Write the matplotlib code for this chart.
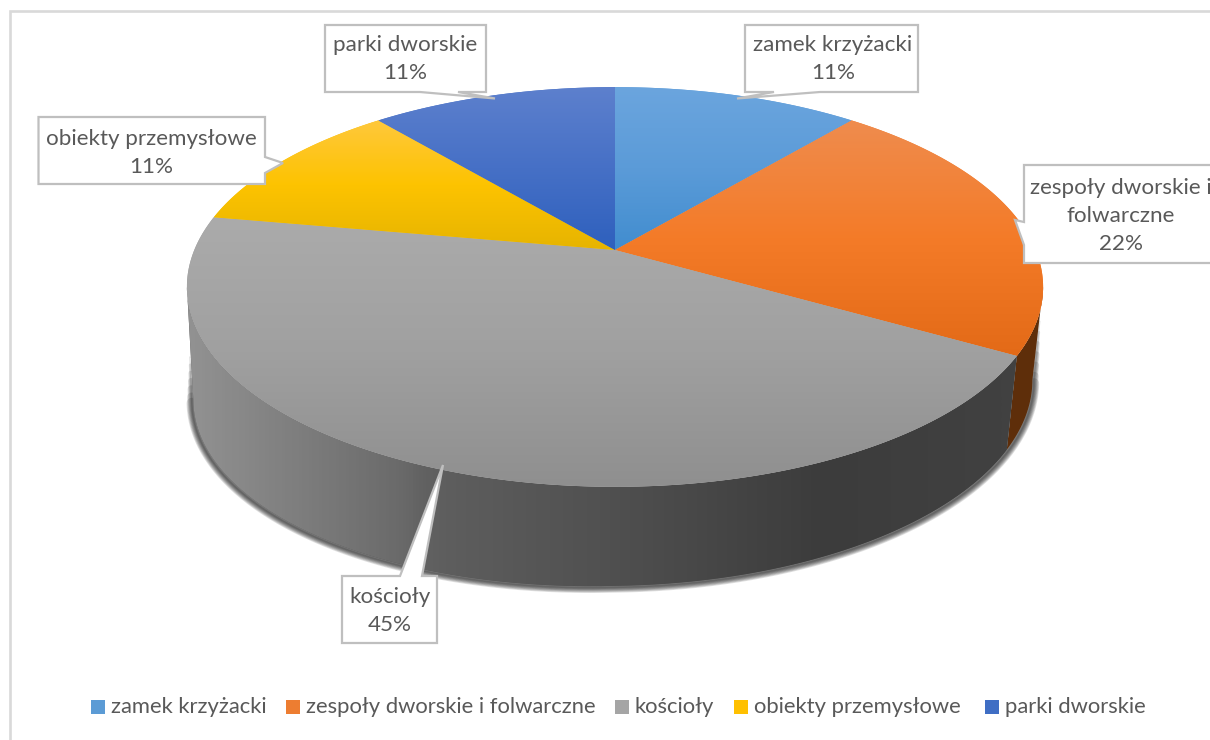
import numpy as np
import matplotlib
matplotlib.use('Agg')
import matplotlib.pyplot as plt
from matplotlib.colors import LinearSegmentedColormap
from matplotlib.patches import Polygon, Rectangle

categories = ['zamek krzyżacki', 'zespoły dworskie i folwarczne', 'kościoły',
              'obiekty przemysłowe', 'parki dworskie']
percent_labels = [11, 22, 45, 11, 11]
# slice sizes as measured on the picture, a bit off from the rounded labels
slice_sizes = [11.1, 22.2, 44.5, 11.1, 11.1]
legend_colors = ['#5b9bd5', '#ed7d31', '#a5a5a5', '#ffc000', '#3f6ec4']

top_colors = [('#6ba5de', '#5b9bd8', '#418dcf'), ('#ef8c4e', '#f47b28', '#e36a17'),
              ('#ababab', '#a0a0a0', '#8f8f8f'), ('#ffc83c', '#fdc300', '#e6b400'),
              ('#5d80cd', '#4670c6', '#2e60bd')]
wall_color_orange = '#5e2e0a'
wall_stops = [(0.0, '#939393'), (0.25, '#6b6b6b'), (0.29, '#5f5f5f'), (0.5, '#505050'),
              (0.75, '#3c3c3c'), (1.0, '#424242')]

plt.rcParams['font.family'] = ['Lato', 'DejaVu Sans']
TEXT = '#595959'

fig = plt.figure(figsize=(12.1, 7.4), dpi=100)
ax = fig.add_axes([0, 0, 1, 1])
ax.set_xlim(0, 1210)
ax.set_ylim(740, 0)
ax.axis('off')


# disc perspective: angle -> pixel
def rim(t):
    den = 1 + 0.185 * np.cos(t)
    return 615 + 420.7 * np.sin(t) / den, 250 - 193 * np.cos(t) / den


def rim_low(t):
    x, y = rim(t)
    s = np.sin(t)
    scale = np.where(s > 0, 0.975, 0.985)
    drop = np.where(s > 0, 99 - 6 * s, 99 - 14 * s)
    return 615 + scale * (x - 615), y + drop


def gradient(poly, colors, zo, horizontal=False, extent=None):
    xs, ys = poly[:, 0], poly[:, 1]
    if extent is None:
        extent = (xs.min(), xs.max(), ys.max(), ys.min())
    g = np.linspace(0, 1, 256)
    g = g.reshape(1, -1) if horizontal else g.reshape(-1, 1)
    cmap = LinearSegmentedColormap.from_list('g', colors)
    patch = Polygon(poly, closed=True, fc=cmap(0.5), ec='none', zorder=zo)
    ax.add_patch(patch)
    im = ax.imshow(g, extent=extent, cmap=cmap, aspect='auto', origin='upper',
                   interpolation='bilinear', zorder=zo + 0.1, vmin=0, vmax=1)
    im.set_clip_path(patch)


ax.add_patch(Rectangle((9.5, 10.5), 1300, 800, fc='white', ec='#d9d9d9', lw=1.9, zorder=0))

shares = np.array(slice_sizes) / sum(slice_sizes)
edges = np.concatenate([[0], np.cumsum(shares)]) * 2 * np.pi
# silhouette of the disc, the wall is only visible between these
t_right = np.arccos(0.185 * -1)
t_left = 2 * np.pi - t_right

# shadow under the lower edge, going a bit up the two sides
ts = np.linspace(t_right, t_left, 300)
sx, sy = rim_low(ts)
sx = sx + 1.5 * np.sin(ts)
f = np.linspace(0.75, 0, 20)
rx0, ry0 = rim(t_right)
rx1, ry1 = rim(t_left)
sx = np.concatenate([sx[0] + f * (rx0 - sx[0]), sx, sx[-1] + f[::-1] * (rx1 - sx[-1]) * 0.6])
sy = np.concatenate([sy[0] + f * (ry0 - sy[0]), sy + 1.5, sy[-1] + f[::-1] * (ry1 - sy[-1]) * 0.6])
for w in range(1, 8):
    # wider strokes stop sooner so the ends fade out
    cut = w * 3
    ax.plot(sx[cut:-cut], sy[cut:-cut], color='black', lw=w * 1.1, alpha=0.12, zorder=1,
            solid_capstyle='round')

# walls
for i in range(len(slice_sizes)):
    a, b = max(edges[i], t_right), min(edges[i + 1], t_left)
    if a >= b:
        continue
    t = np.linspace(a, b, 200)
    wall = np.vstack([np.column_stack(rim(t)), np.column_stack(rim_low(t))[::-1]])
    if categories[i] == 'kościoły':
        cm = LinearSegmentedColormap.from_list('w', wall_stops)
        gradient(wall, [cm(v) for v in np.linspace(0, 1, 40)], 2, horizontal=True,
                 extent=(180, 1040, 740, 0))
    else:
        ax.add_patch(Polygon(wall, closed=True, fc=wall_color_orange, ec='none', zorder=2))

# top face
for i in range(len(slice_sizes)):
    t = np.linspace(edges[i], edges[i + 1], 200)
    face = np.vstack([[rim(0.0)[0], 250], np.column_stack(rim(t))])
    gradient(face, top_colors[i], 3)

# callouts
callouts = [
    ([(745, 25), (918, 25), (918, 92), (820, 92), (737, 98.5), (774, 92), (745, 92)], (833, 59)),
    ([(1024, 165), (1240, 165), (1240, 263), (1024, 263), (1024, 245), (1015, 220), (1024, 222)], (1121, 216)),
    ([(342, 576), (400, 576), (443, 465), (422, 576), (437, 576), (437, 643), (342, 643)], (390, 611)),
    ([(38.5, 117), (265, 117), (265, 157), (283, 163), (265, 173), (265, 184), (38.5, 184)], (151, 153)),
    ([(325, 25), (486, 25), (486, 92), (458, 92), (495, 98.5), (420, 92), (325, 92)], (405, 59)),
]
names = ['zamek krzyżacki', 'zespoły dworskie i\nfolwarczne', 'kościoły',
         'obiekty przemysłowe', 'parki dworskie']
for name, v, (verts, pos) in zip(names, percent_labels, callouts):
    ax.add_patch(Polygon(verts, closed=True, fc='white', ec='#bfbfbf', lw=1.6,
                         joinstyle='miter', zorder=5))
    ax.text(pos[0], pos[1], f'{name}\n{v}%', ha='center', va='center', color=TEXT,
            fontsize=16.1, linespacing=1.47, zorder=6)

# legend
legend_x = [91, 286, 615, 734, 985]
for name, c, x in zip(categories, legend_colors, legend_x):
    ax.add_patch(Rectangle((x, 700), 14, 14, fc=c, ec='none', zorder=5))
    ax.text(x + 20, 707, name, ha='left', va='center', color=TEXT, fontsize=15.8, zorder=6)

ax.set_xlim(0, 1210)
ax.set_ylim(740, 0)
fig.savefig('out.png', dpi=100)
